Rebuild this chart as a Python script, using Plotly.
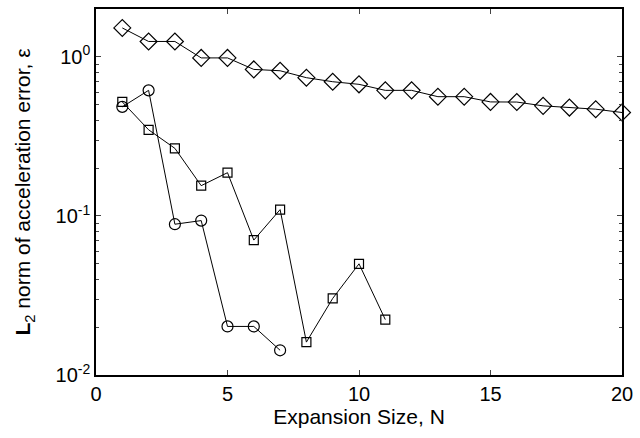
import plotly.graph_objects as go

n_diamond = list(range(1, 21))
err_diamond = [1.52, 1.25, 1.25, 0.985, 0.985, 0.834, 0.818, 0.74, 0.698, 0.672,
               0.616, 0.616, 0.562, 0.562, 0.521, 0.52, 0.492, 0.48, 0.469, 0.447]
n_square = list(range(1, 12))
err_square = [0.521, 0.348, 0.266, 0.155, 0.187, 0.0705, 0.1096, 0.0161, 0.0303, 0.050, 0.0223]
n_circle = list(range(1, 8))
err_circle = [0.485, 0.616, 0.0887, 0.0935, 0.0202, 0.0202, 0.0143]

y_ticks = [0.01, 0.1, 1]
y_ticktext = ["10<sup>-2</sup>", "10<sup>-1</sup>", "10<sup>0</sup>"]
x_ticks = [0, 5, 10, 15, 20]

minor_vals = [m * 10**e for e in (-2, -1, 0) for m in range(2, 10)]

fig = go.Figure()
line = dict(color="black", width=1)
fig.add_trace(go.Scatter(x=n_diamond, y=err_diamond, mode="lines+markers", line=line, cliponaxis=False,
                         marker=dict(symbol="diamond-open", size=13, color="black", line=dict(width=1.2))))
fig.add_trace(go.Scatter(x=n_square, y=err_square, mode="lines+markers", line=line, cliponaxis=False,
                         marker=dict(symbol="square-open", size=9, color="black", line=dict(width=1.2))))
fig.add_trace(go.Scatter(x=n_circle, y=err_circle, mode="lines+markers", line=line, cliponaxis=False,
                         marker=dict(symbol="circle-open", size=11, color="black", line=dict(width=1.2))))

font = dict(family="Liberation Sans, Arial", size=20, color="black")
title_font = dict(family="Liberation Sans, Arial", size=21, color="black")
fig.update_layout(
    width=640, height=438,
    margin=dict(l=96, r=11, t=7, b=63),
    paper_bgcolor="white", plot_bgcolor="white",
    showlegend=False, font=font,
    xaxis=dict(range=[0, 20], tickvals=x_ticks, ticks="inside", ticklen=5, mirror="ticks",
               showline=True, linecolor="black", linewidth=1.5, showgrid=False, zeroline=False,
               tickfont=font, ticklabeloverflow="allow",
               title=dict(text="Expansion Size, N", font=title_font, standoff=1)),
    yaxis=dict(type="log", range=[-2, 0.301], tickvals=y_ticks, ticktext=y_ticktext,
               ticks="inside", ticklen=5, mirror="ticks", showline=True, linecolor="black",
               linewidth=1.5, showgrid=False, zeroline=False, tickfont=font,
               ticklabeloverflow="allow",
               minor=dict(tickvals=minor_vals, ticks="inside", ticklen=3, showgrid=False),
               title=dict(text="<b>L</b><sub>2</sub> norm of acceleration error, ε", font=title_font, standoff=19)),
)
fig.write_html("out.html")
